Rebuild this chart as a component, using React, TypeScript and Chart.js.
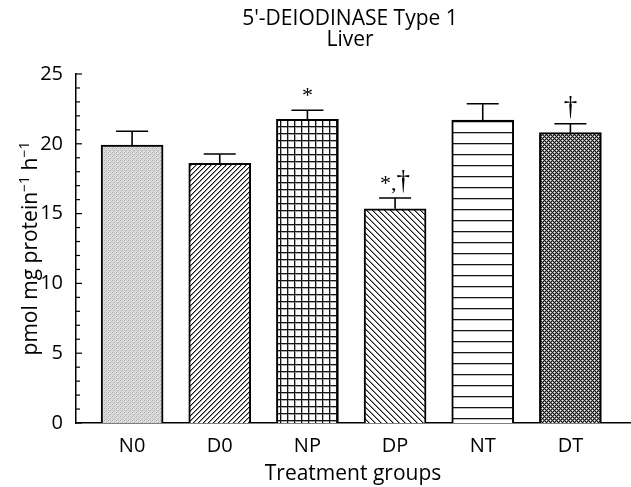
import React, { useEffect, useRef } from "react";
import { Chart, registerables } from "chart.js";

Chart.register(...registerables);

const categories = ["N0", "D0", "NP", "DP", "NT", "DT"];
const means = [19.9, 18.6, 21.75, 15.35, 21.7, 20.8];
const sems = [1.0, 0.67, 0.65, 0.77, 1.17, 0.64];
const annotations = ["", "", "*", "*,†", "", "†"];
const patternKinds = ["stipple", "slash", "grid", "backslash", "horizontal", "cross"];
const yTickValues = [0, 5, 10, 15, 20, 25];

const SANS = '"Open Sans", "DejaVu Sans", sans-serif';
const SERIF = '"Liberation Serif", "DejaVu Serif", serif';

function makePattern(kind: string): CanvasPattern | string {
  const sizes: Record<string, [number, number]> = {
    stipple: [4, 4],
    slash: [5, 5],
    grid: [7, 7],
    backslash: [6, 6],
    horizontal: [8, 11],
    cross: [4, 4],
  };
  const [w, h] = sizes[kind];
  const c = document.createElement("canvas");
  c.width = w;
  c.height = h;
  const ctx = c.getContext("2d")!;
  const img = ctx.createImageData(w, h);
  const set = (x: number, y: number, v: number) => {
    const i = (y * w + x) * 4;
    img.data[i] = v;
    img.data[i + 1] = v;
    img.data[i + 2] = v;
    img.data[i + 3] = 255;
  };
  const mod = (a: number, n: number) => ((a % n) + n) % n;
  for (let y = 0; y < h; y++) {
    for (let x = 0; x < w; x++) {
      let v = 255;
      if (kind === "stipple") {
        const map = [
          [168, 220, 200, 226],
          [222, 236, 214, 196],
          [196, 208, 176, 232],
          [230, 190, 224, 212],
        ];
        v = map[y][x];
      } else if (kind === "slash") {
        const m = mod(x + y, w);
        v = m === 0 ? 20 : m === 1 ? 150 : 255;
      } else if (kind === "backslash") {
        const m = mod(x - y, w);
        v = m === 0 ? 20 : m === 1 ? 150 : 255;
      } else if (kind === "grid") {
        if (x === 0 || y === 0) v = 20;
        else if (x === 1 || y === 1) v = 170;
      } else if (kind === "horizontal") {
        if (y === 0) v = 20;
        else if (y === 1) v = 190;
      } else if (kind === "cross") {
        const a = mod(x + y, 4);
        const b = mod(x - y, 4);
        v = a === 0 || b === 0 ? 20 : a === 2 && b === 2 ? 255 : 140;
      }
      set(x, y, v);
    }
  }
  ctx.putImageData(img, 0, 0);
  const p = ctx.createPattern(c, "repeat");
  return p || "#ccc";
}

const markFont = (ch: string) => (ch === "†" ? `27px ${SERIF}` : `22px ${SERIF}`);

const overlayPlugin = {
  id: "overlay",
  afterDatasetsDraw(chart: any) {
    const ctx: CanvasRenderingContext2D = chart.ctx;
    const xs = chart.scales.x;
    const ys = chart.scales.y;
    const area = chart.chartArea;
    ctx.save();
    ctx.strokeStyle = "#000";
    ctx.fillStyle = "#000";

    // error bars
    ctx.lineWidth = 1.6;
    means.forEach((m, i) => {
      const x = xs.getPixelForValue(i + 1);
      const yTop = ys.getPixelForValue(m);
      const yUp = ys.getPixelForValue(m + sems[i]);
      ctx.beginPath();
      ctx.moveTo(x, yTop);
      ctx.lineTo(x, yUp);
      ctx.moveTo(x - 16, yUp);
      ctx.lineTo(x + 16, yUp);
      ctx.stroke();
    });

    // significance marks (dagger drawn slightly larger than asterisk)
    ctx.textAlign = "left";
    ctx.textBaseline = "alphabetic";
    annotations.forEach((a, i) => {
      if (!a) return;
      const x = xs.getPixelForValue(i + 1);
      const yUp = ys.getPixelForValue(means[i] + sems[i]);
      const chars = Array.from(a);
      let total = 0;
      chars.forEach((ch) => {
        ctx.font = markFont(ch);
        total += ctx.measureText(ch).width;
      });
      let px = x - total / 2;
      chars.forEach((ch) => {
        ctx.font = markFont(ch);
        ctx.fillText(ch, px, yUp - (ch === "†" ? 9 : 8));
        px += ctx.measureText(ch).width;
      });
    });

    // inward minor ticks on y axis
    ctx.lineWidth = 1.2;
    for (let v = 0; v <= 25; v++) {
      const y = ys.getPixelForValue(v);
      const len = v % 5 === 0 ? 6 : 4;
      ctx.beginPath();
      ctx.moveTo(area.left, y);
      ctx.lineTo(area.left + len, y);
      ctx.stroke();
    }

    // titles
    const cx = (area.left + area.right) / 2 - 3;
    ctx.font = `21px ${SANS}`;
    ctx.textAlign = "center";
    ctx.textBaseline = "middle";
    ctx.fillText("5'-DEIODINASE Type 1", cx, 19);
    ctx.fillText("Liver", cx, 40);
    ctx.fillText("Treatment groups", (area.left + area.right) / 2, 474);

    // y axis label with superscripts
    const segs: [string, boolean][] = [
      ["pmol mg protein", false],
      ["\u22121", true],
      [" h", false],
      ["\u22121", true],
    ];
    const big = `21px ${SANS}`;
    const small = `14px ${SANS}`;
    let total = 0;
    segs.forEach(([t, sup]) => {
      ctx.font = sup ? small : big;
      total += ctx.measureText(t).width;
    });
    ctx.translate(30, (area.top + area.bottom) / 2);
    ctx.rotate(-Math.PI / 2);
    ctx.textAlign = "left";
    ctx.textBaseline = "alphabetic";
    let px = -total / 2;
    segs.forEach(([t, sup]) => {
      ctx.font = sup ? small : big;
      ctx.fillText(t, px, sup ? -1 : 7);
      px += ctx.measureText(t).width;
    });
    ctx.restore();
  },
};

export default function App() {
  const ref = useRef<HTMLCanvasElement>(null);
  useEffect(() => {
    const canvas = ref.current!;
    const chart = new Chart(canvas, {
      type: "bar",
      data: {
        datasets: [
          {
            data: means.map((m, i) => ({ x: i + 1, y: m })),
            backgroundColor: patternKinds.map((k) => makePattern(k)) as any,
            borderColor: "#000",
            borderWidth: 2,
            borderSkipped: "bottom",
            barThickness: 62,
          },
        ],
      },
      options: {
        responsive: false,
        animation: false,
        events: [],
        layout: { padding: { left: 0, top: 74, right: 1, bottom: 0 } },
        plugins: { legend: { display: false }, tooltip: { enabled: false }, title: { display: false } },
        scales: {
          x: {
            type: "linear",
            offset: false,
            min: 0.36,
            max: 6.68,
            grid: { display: false, drawTicks: false },
            border: { display: true, color: "#000", width: 1.5 },
            afterBuildTicks: (scale: any) => {
              scale.ticks = categories.map((_, i) => ({ value: i + 1 }));
            },
            afterFit: (scale: any) => {
              scale.height = 64;
            },
            ticks: {
              autoSkip: false,
              maxRotation: 0,
              padding: 11,
              color: "#000",
              font: { family: SANS, size: 20 },
              callback: (v: any) => categories[Math.round(Number(v)) - 1] ?? "",
            },
          },
          y: {
            min: 0,
            max: 25,
            grid: { display: false, drawTicks: false },
            border: { display: true, color: "#000", width: 1.5 },
            afterBuildTicks: (scale: any) => {
              scale.ticks = yTickValues.map((v) => ({ value: v }));
            },
            afterFit: (scale: any) => {
              scale.width = 76;
            },
            ticks: {
              padding: 13,
              color: "#000",
              font: { family: SANS, size: 20 },
            },
          },
        },
      },
      plugins: [overlayPlugin],
    });
    return () => chart.destroy();
  }, []);
  return (
    <div style={{ position: "absolute", left: 0, top: 0, width: 631, height: 487, background: "#fff" }}>
      <canvas ref={ref} width={631} height={487} style={{ display: "block" }} />
    </div>
  );
}
